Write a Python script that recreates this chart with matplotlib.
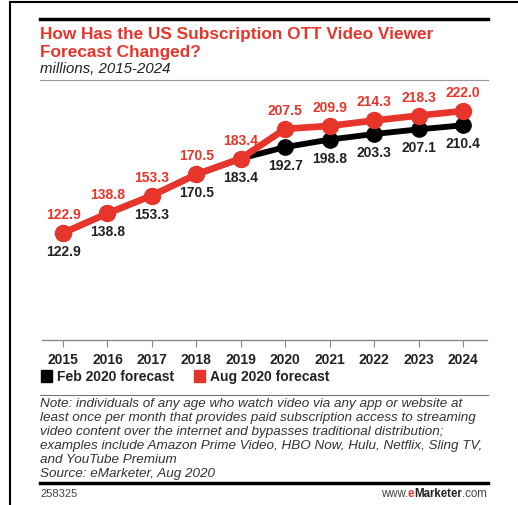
import matplotlib.pyplot as plt
from matplotlib.lines import Line2D
from matplotlib.patches import Rectangle

plt.rcParams['font.family'] = ['Liberation Sans', 'DejaVu Sans']

years = [2015, 2016, 2017, 2018, 2019, 2020, 2021, 2022, 2023, 2024]
feb_2020 = [122.9, 138.8, 153.3, 170.5, 183.4, 192.7, 198.8, 203.3, 207.1, 210.4]
aug_2020 = [122.9, 138.8, 153.3, 170.5, 183.4, 207.5, 209.9, 214.3, 218.3, 222.0]

RED = '#e8352c'
BLACK = '#000000'

W, H = 518, 506
fig = plt.figure(figsize=(W / 100, H / 100), dpi=100)


def fx(px):
    return px / W


def fy(py):
    return 1 - py / H


ax = fig.add_axes([fx(42), fy(341), fx(487) - fx(42), fy(90) - fy(341)])
ax.set_xlim(2014.527, 2024.54)
ax.set_ylim(35.9, 239.9)

ax.plot(years, feb_2020, color=BLACK, lw=4.2, marker='o', ms=11, zorder=2,
        solid_capstyle='round')
ax.plot(years, aug_2020, color=RED, lw=4.8, marker='o', ms=11.5, zorder=3,
        solid_capstyle='round')

for yr, f, a in zip(years, feb_2020, aug_2020):
    ax.annotate(f'{a:.1f}', (yr, a), xytext=(0, 12), textcoords='offset pixels',
                ha='center', va='bottom', color=RED, fontsize=10, fontweight='bold')
    ax.annotate(f'{f:.1f}', (yr, f), xytext=(0, -11), textcoords='offset pixels',
                ha='center', va='top', color='#222222', fontsize=10, fontweight='bold')

for s in ['top', 'right', 'left']:
    ax.spines[s].set_visible(False)
ax.spines['bottom'].set_color('#888888')
ax.spines['bottom'].set_linewidth(1)
ax.set_yticks([])
ax.set_xticks(years)
ax.set_xticklabels([str(y) for y in years], fontsize=10, fontweight='bold', color='#222222')
ax.tick_params(axis='x', length=5, color='#888888', pad=4)

# frame around the card
fig.add_artist(Line2D([fx(10), fx(10)], [fy(3), 0], color='black', lw=1.5))
fig.add_artist(Line2D([fx(10), 1], [fy(3), fy(3)], color='black', lw=1.5))

# rules
fig.add_artist(Line2D([fx(40), fx(488)], [fy(20), fy(20)], color='black', lw=2.5))
fig.add_artist(Line2D([fx(40), fx(488)], [fy(81), fy(81)], color='#999999', lw=0.8))
fig.add_artist(Line2D([fx(40), fx(488)], [fy(396), fy(396)], color='#777777', lw=0.8))
fig.add_artist(Line2D([fx(40), fx(488)], [fy(484), fy(484)], color='black', lw=2.5))

fig.text(fx(40), fy(35), 'How Has the US Subscription OTT Video Viewer', color=RED,
         fontsize=12.4, fontweight='bold', va='center')
fig.text(fx(40), fy(52), 'Forecast Changed?', color=RED,
         fontsize=12.4, fontweight='bold', va='center')
fig.text(fx(40), fy(69), 'millions, 2015-2024', color='#222222',
         fontsize=10.8, style='italic', va='center')

# legend
fig.add_artist(Rectangle((fx(41), fy(383)), fx(11), fy(371) - fy(383),
                         color=BLACK, transform=fig.transFigure))
fig.text(fx(57), fy(377), 'Feb 2020 forecast', fontsize=10, fontweight='bold',
         color='#222222', va='center')
fig.add_artist(Rectangle((fx(194), fy(383)), fx(11), fy(371) - fy(383),
                         color=RED, transform=fig.transFigure))
fig.text(fx(210), fy(377), 'Aug 2020 forecast', fontsize=10, fontweight='bold',
         color='#222222', va='center')

note = ("Note: individuals of any age who watch video via any app or website at\n"
        "least once per month that provides paid subscription access to streaming\n"
        "video content over the internet and bypasses traditional distribution;\n"
        "examples include Amazon Prime Video, HBO Now, Hulu, Netflix, Sling TV,\n"
        "and YouTube Premium\n"
        "Source: eMarketer, Aug 2020")
fig.text(fx(40), fy(398), note, fontsize=9.7, style='italic', color='#333333',
         va='top', linespacing=1.22)

fig.text(fx(40), fy(494), '258325', fontsize=8, color='#444444', va='center')

# footer url, assembled right to left
renderer = fig.canvas.get_renderer()
right = 487
for part, color, weight in [('.com', '#444444', 'normal'),
                            ('Marketer', '#222222', 'bold'),
                            ('e', RED, 'bold'),
                            ('www.', '#444444', 'normal')]:
    t = fig.text(fx(right), fy(494), part, fontsize=8.3, color=color, va='center',
                 ha='right', fontweight=weight)
    right -= t.get_window_extent(renderer).width

fig.savefig('out.png', dpi=100)
